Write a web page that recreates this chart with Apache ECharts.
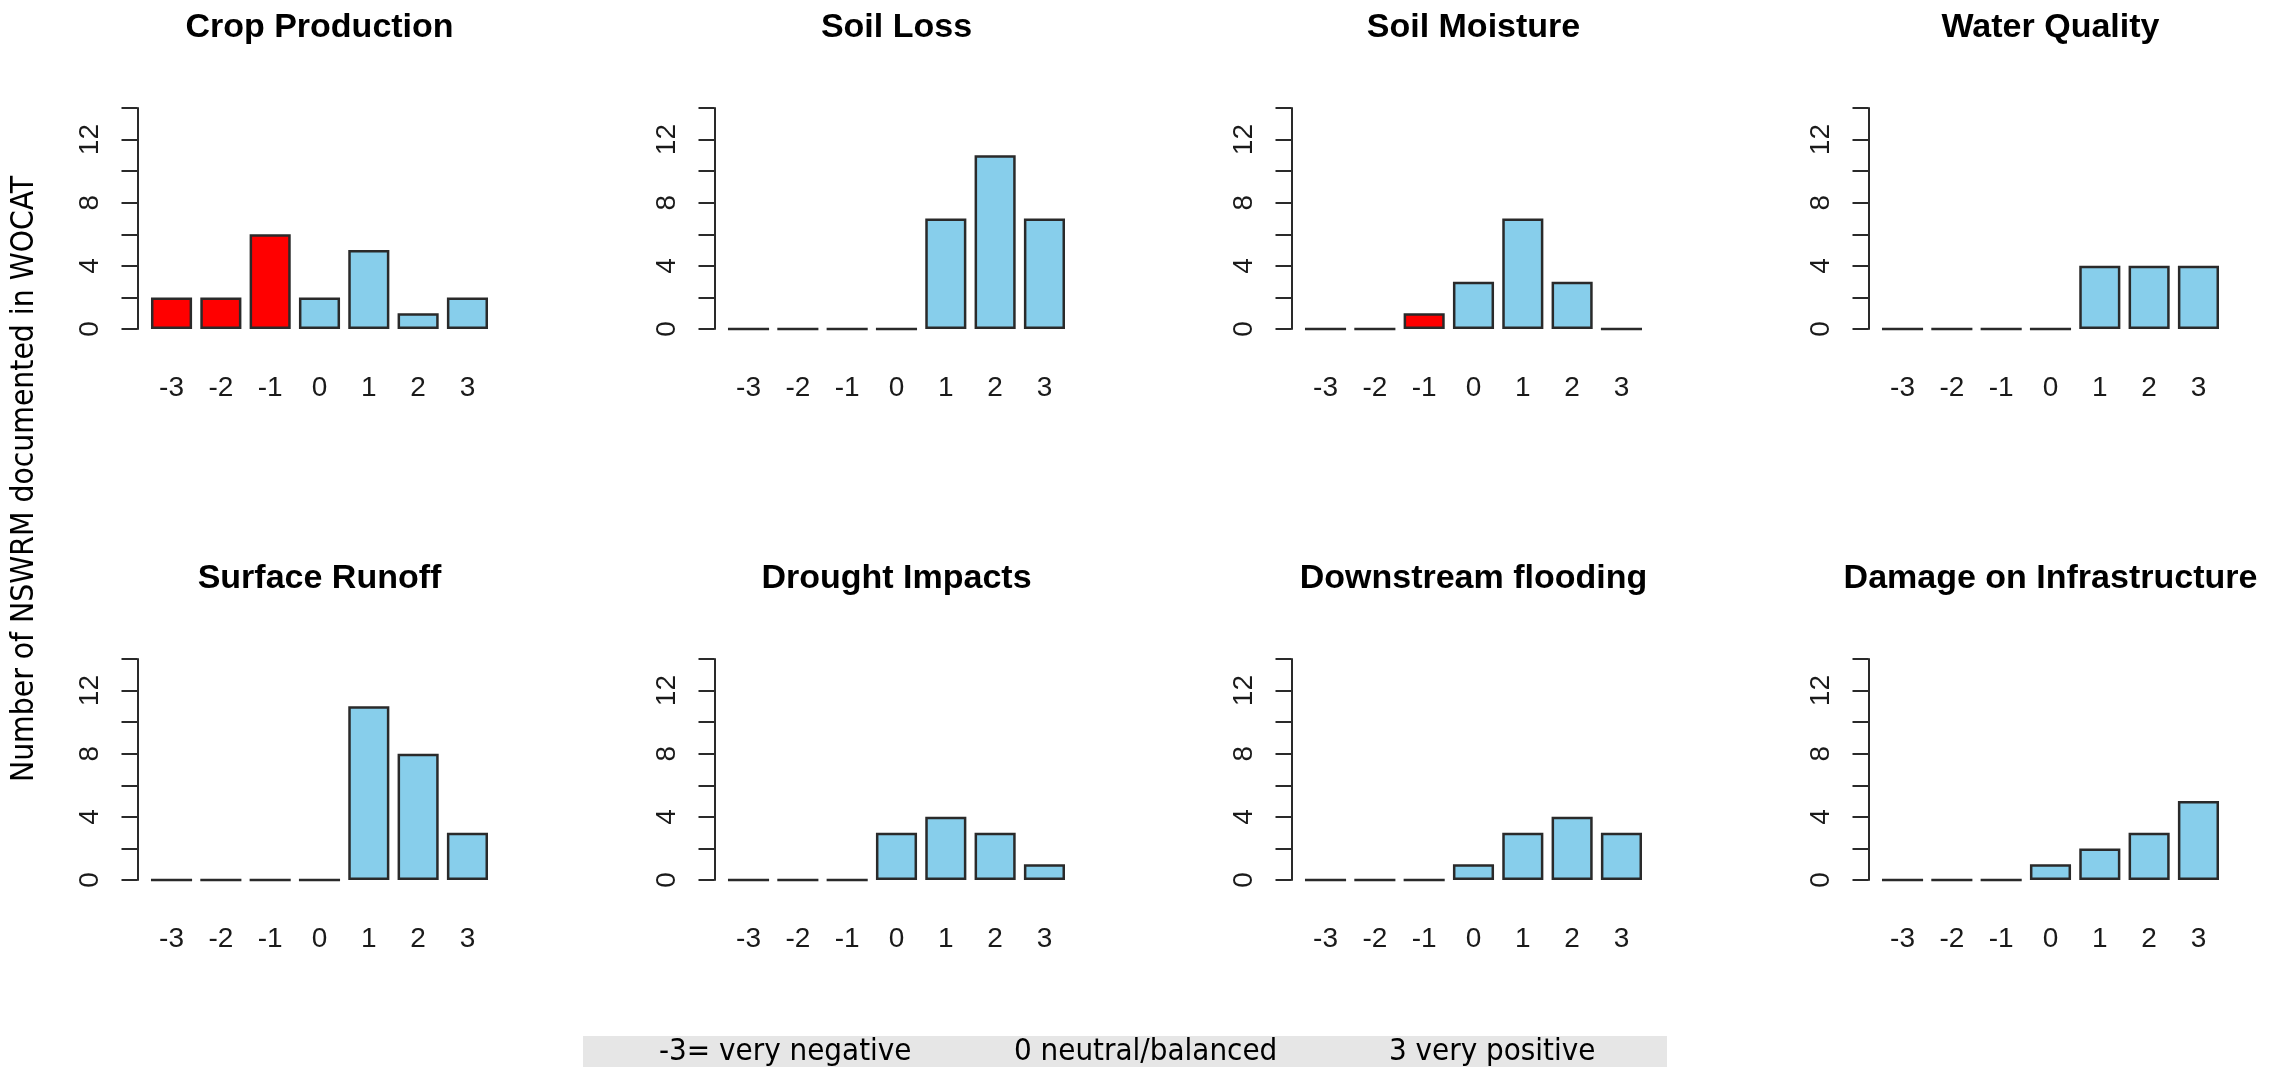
<!DOCTYPE html>
<html><head><meta charset="utf-8">
<script src="https://cdn.jsdelivr.net/npm/echarts@6/dist/echarts.min.js"></script>
<style>html,body{margin:0;padding:0;background:#fff}#c{width:2285px;height:1073px}</style>
</head><body><div id="c"></div>
<script>
// ---- data ----
const categories = ['-3', '-2', '-1', '0', '1', '2', '3'];
const panelTitles = ['Crop Production', 'Soil Loss', 'Soil Moisture', 'Water Quality',
  'Surface Runoff', 'Drought Impacts', 'Downstream flooding', 'Damage on Infrastructure'];
const cropProduction = [2, 2, 6, 2, 5, 1, 2];
const soilLoss = [0, 0, 0, 0, 7, 11, 7];
const soilMoisture = [0, 0, 1, 3, 7, 3, 0];
const waterQuality = [0, 0, 0, 0, 4, 4, 4];
const surfaceRunoff = [0, 0, 0, 0, 11, 8, 3];
const droughtImpacts = [0, 0, 0, 3, 4, 3, 1];
const downstreamFlooding = [0, 0, 0, 1, 3, 4, 3];
const damageInfrastructure = [0, 0, 0, 1, 2, 3, 5];
const yAxisMax = 14;
const yAxisStep = 2;
const yLabelStep = 4;
const yAxisTitle = 'Number of NSWRM documented in WOCAT';
const scaleLegend = ['-3= very negative', '0 neutral/balanced', '3 very positive'];

const panelValues = [cropProduction, soilLoss, soilMoisture, waterQuality,
  surfaceRunoff, droughtImpacts, downstreamFlooding, damageInfrastructure];

// ---- layout ----
const colX0 = [137.5, 714.5, 1291.5, 1868.5];   // y-axis line x per column
const rowTop = [108, 659];
const titleY = [28, 579];
const plotH = 221;
const unit = 41.1;                 // px per R bar unit
const gridOffset = 0.228 * unit;   // from axis line to first category bin
const gridW = 8.4 * unit;
const plotRegionW = 8.856 * unit;

const negColor = '#FF0000';
const posColor = '#87CEEB';
const ink = '#1a1a1a';
const lineInk = '#2a2a2a';

const grids = [], xAxes = [], yAxes = [], series = [], graphics = [];
panelValues.forEach((vals, i) => {
  const c = i % 4, r = Math.floor(i / 4);
  const x0 = colX0[c];
  grids.push({ left: x0 + gridOffset, top: rowTop[r], width: gridW, height: plotH, outerBoundsMode: 'none', containLabel: false });
  xAxes.push({
    type: 'category', gridIndex: i, data: categories,
    axisLine: { show: false }, axisTick: { show: false }, splitLine: { show: false },
    axisLabel: { margin: 45, fontSize: 28, fontFamily: 'Liberation Sans, Arial, sans-serif', color: ink, interval: 0, lineHeight: 28 }
  });
  yAxes.push({
    type: 'value', gridIndex: i, min: 0, max: yAxisMax, interval: yAxisStep, offset: gridOffset,
    axisLine: { show: true, lineStyle: { color: lineInk, width: 2 } },
    axisTick: { show: true, length: 16, lineStyle: { color: lineInk, width: 2 } },
    splitLine: { show: false },
    axisLabel: {
      rotate: 90, margin: 33, fontSize: 28, lineHeight: 28, fontFamily: 'Liberation Sans, Arial, sans-serif', color: ink,
      formatter: v => (v % yLabelStep === 0 ? String(v) : '')
    }
  });
  series.push({
    type: 'bar', xAxisIndex: i, yAxisIndex: i, data: vals, barWidth: unit,
    animation: false, silent: true,
    itemStyle: {
      color: p => (Number(p.name) < 0 ? negColor : posColor),
      borderColor: lineInk, borderWidth: 2.5
    }
  });
  graphics.push({
    type: 'text', x: x0 + plotRegionW / 2, y: titleY[r], silent: true,
    style: { text: panelTitles[i], fill: '#000', fontSize: 34, fontWeight: 'bold',
      fontFamily: 'Liberation Sans, Arial, sans-serif', align: 'center', verticalAlign: 'middle',
      textAlign: 'center', textVerticalAlign: 'middle' }
  });
});

graphics.push({
  type: 'text', x: 25, y: 479, rotation: Math.PI / 2, silent: true,
  style: { text: yAxisTitle, fill: '#000', fontSize: 31.5, fontFamily: 'DejaVu Sans Condensed, DejaVu Sans, sans-serif',
    align: 'center', verticalAlign: 'middle', textAlign: 'center', textVerticalAlign: 'middle' }
});
graphics.push({
  type: 'rect', silent: true, shape: { x: 583, y: 1036, width: 1084, height: 31 },
  style: { fill: '#E6E6E6' }
});
const legendX = [659, 1014, 1389];
scaleLegend.forEach((t, k) => {
  graphics.push({
    type: 'text', x: legendX[k], y: 1052, silent: true,
    style: { text: t, fill: '#000', fontSize: 31, fontFamily: 'DejaVu Sans Condensed, DejaVu Sans, sans-serif',
      align: 'left', verticalAlign: 'middle', textAlign: 'left', textVerticalAlign: 'middle' }
  });
});

const chart = echarts.init(document.getElementById('c'), null, { renderer: 'canvas' });
chart.setOption({
  backgroundColor: '#ffffff',
  animation: false,
  grid: grids, xAxis: xAxes, yAxis: yAxes, series: series,
  graphic: graphics
});
</script></body></html>
